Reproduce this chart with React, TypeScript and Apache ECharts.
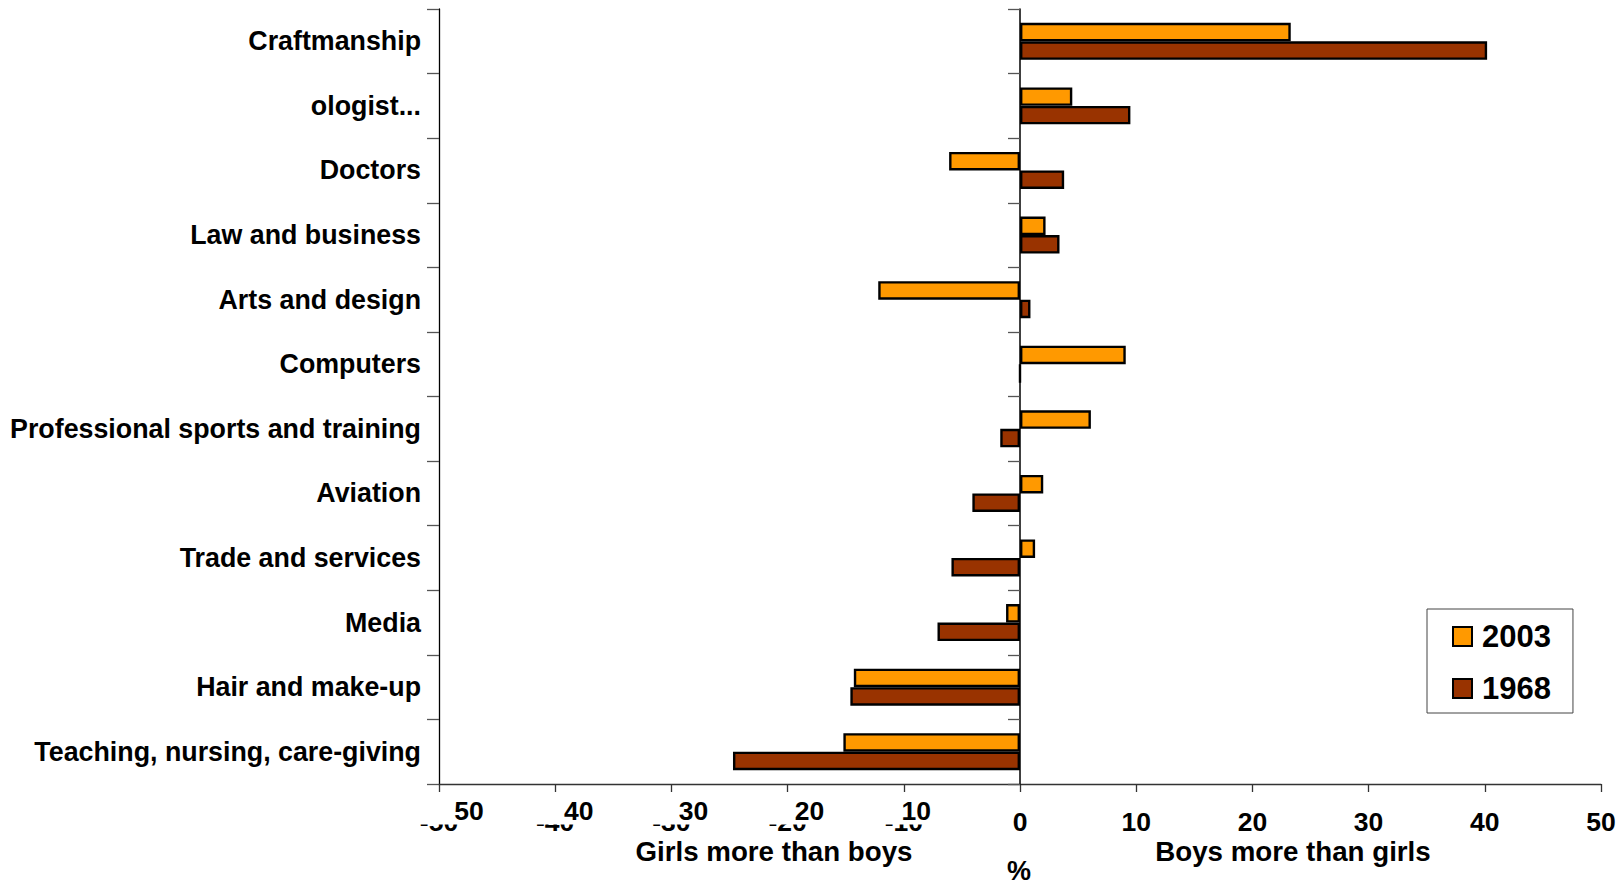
import React, { useEffect, useRef } from 'react';
import * as echarts from 'echarts';

const categories = [
  'Craftmanship',
  'ologist...',
  'Doctors',
  'Law and business',
  'Arts and design',
  'Computers',
  'Professional sports and training',
  'Aviation',
  'Trade and services',
  'Media',
  'Hair and make-up',
  'Teaching, nursing, care-giving',
];
const values2003 = [23.3, 4.5, -6.1, 2.2, -12.2, 9.1, 6.1, 2.0, 1.3, -1.2, -14.3, -15.2];
const values1968 = [40.2, 9.5, 3.8, 3.4, 0.9, 0, -1.7, -4.1, -5.9, -7.1, -14.6, -24.7];
const seriesNames = ['2003', '1968'];
const xTitleLeft = 'Girls more than boys';
const xTitleRight = 'Boys more than girls';
const unitLabel = '%';

const FONT = '"Liberation Sans", Arial, Helvetica, sans-serif';
const negShift: Record<string, number> = { '50': 30, '40': 23.5, '30': 22, '20': 22, '10': 12.5 };

export default function App() {
  const ref = useRef<HTMLDivElement>(null);
  useEffect(() => {
    if (!ref.current) return;
    const chart = echarts.init(ref.current, undefined, { renderer: 'svg' });
    const rich: Record<string, any> = {};
    Object.keys(negShift).forEach((k) => {
      const P = 4;
      rich['n' + k] = {
        fontSize: 26.5,
        fontWeight: 'bold',
        fontFamily: FONT,
        color: '#000',
        backgroundColor: '#fff',
        lineHeight: 22,
        padding: [0, P, 0, 2 * negShift[k] + P],
      };
    });
    const tickLabelStyle = { fontSize: 26.5, fontWeight: 'bold' as const, fontFamily: FONT, color: '#000' };
    const catLabelStyle = { fontSize: 26.8, fontWeight: 'bold' as const, fontFamily: FONT, color: '#000' };
    chart.setOption({
      animation: false,
      backgroundColor: '#fff',
      grid: { left: 439, right: 21, top: 9, bottom: 103, containLabel: false },
      legend: {
        orient: 'vertical',
        left: 1427,
        top: 609,
        padding: [12, 22, 9, 25],
        itemWidth: 19,
        itemHeight: 19,
        itemGap: 21,
        borderColor: '#444',
        borderWidth: 1,
        backgroundColor: '#fff',
        icon: 'rect',
        itemStyle: { borderColor: '#000', borderWidth: 2 },
        textStyle: { fontSize: 31, fontWeight: 'bold', color: '#000', fontFamily: FONT, padding: [0, 0, 0, 5] },
        data: seriesNames,
      },
      xAxis: [
        {
          type: 'value',
          min: -50,
          max: 50,
          interval: 10,
          position: 'bottom',
          axisLine: { show: true, onZero: false, lineStyle: { color: '#333', width: 1.3 } },
          axisTick: { show: true, length: 8, lineStyle: { color: '#333', width: 1.3 } },
          splitLine: { show: false },
          axisLabel: { ...tickLabelStyle, margin: 24 },
        },
        {
          type: 'value',
          min: -50,
          max: 50,
          interval: 10,
          position: 'bottom',
          z: 5,
          axisLine: { show: false, onZero: false },
          axisTick: { show: false },
          splitLine: { show: false },
          axisLabel: {
            margin: 16,
            formatter: (v: number) => (v < 0 ? `{n${-v}|${-v}}` : ''),
            rich,
          },
        },
      ],
      yAxis: [
        {
          type: 'category',
          data: categories,
          inverse: true,
          position: 'left',
          axisLine: { show: true, onZero: false, lineStyle: { color: '#000', width: 1.3 } },
          axisTick: { show: true, length: 12, lineStyle: { color: '#555', width: 1.3 } },
          axisLabel: { ...catLabelStyle, margin: 18 },
        },
        {
          type: 'category',
          data: categories,
          inverse: true,
          position: 'left',
          z: 5,
          axisLine: { show: true, onZero: true, lineStyle: { color: '#000', width: 1.5 } },
          axisTick: { show: true, length: 12, lineStyle: { color: '#555', width: 1.3 } },
          axisLabel: { show: false },
        },
      ],
      series: [
        {
          name: seriesNames[0],
          type: 'bar',
          yAxisIndex: 0,
          xAxisIndex: 0,
          data: values2003,
          barWidth: 18.5,
          barGap: '0%',
          itemStyle: { color: '#FF9900', borderColor: '#000', borderWidth: 2.4 },
        },
        {
          name: seriesNames[1],
          type: 'bar',
          yAxisIndex: 0,
          xAxisIndex: 0,
          data: values1968,
          barWidth: 18.5,
          barGap: '0%',
          itemStyle: { color: '#993300', borderColor: '#000', borderWidth: 2.4 },
        },
      ],
      graphic: [
        {
          type: 'text',
          x: 774,
          y: 851,
          style: { text: xTitleLeft, align: 'center', verticalAlign: 'middle', fontSize: 27.7, fontWeight: 'bold', fontFamily: FONT, fill: '#000' },
        },
        {
          type: 'text',
          x: 1293,
          y: 851,
          style: { text: xTitleRight, align: 'center', verticalAlign: 'middle', fontSize: 27.7, fontWeight: 'bold', fontFamily: FONT, fill: '#000' },
        },
        {
          type: 'text',
          x: 1019,
          y: 871,
          style: { text: unitLabel, align: 'center', verticalAlign: 'middle', fontSize: 27, fontWeight: 'bold', fontFamily: FONT, fill: '#000' },
        },
      ],
    });
    return () => chart.dispose();
  }, []);
  return <div ref={ref} style={{ position: 'fixed', left: 0, top: 0, width: 1622, height: 887 }} />;
}
